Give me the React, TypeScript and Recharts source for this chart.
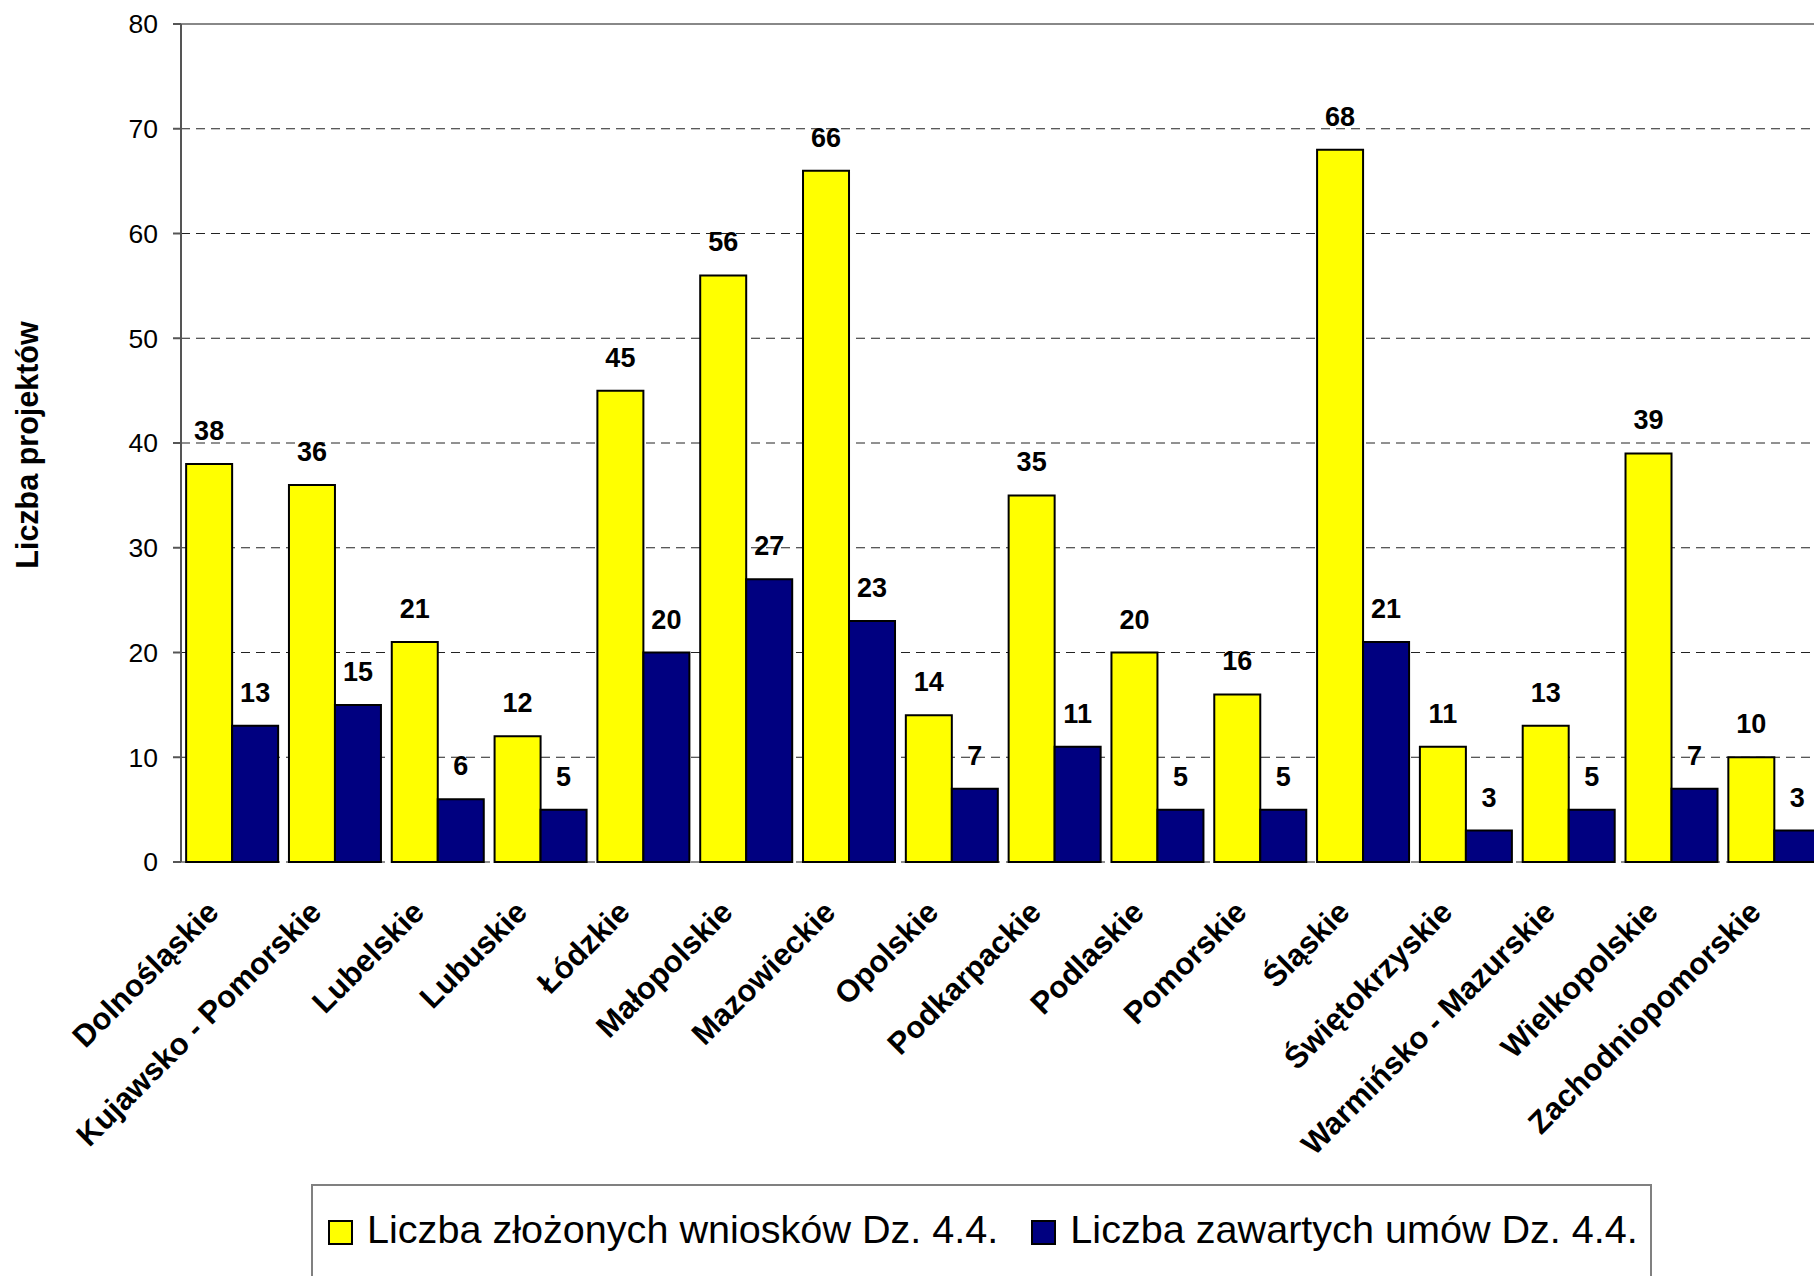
import React from 'react';
import { BarChart, Bar, XAxis, YAxis, CartesianGrid, LabelList, ReferenceLine } from 'recharts';

const categories = [
  'Dolnośląskie',
  'Kujawsko - Pomorskie',
  'Lubelskie',
  'Lubuskie',
  'Łódzkie',
  'Małopolskie',
  'Mazowieckie',
  'Opolskie',
  'Podkarpackie',
  'Podlaskie',
  'Pomorskie',
  'Śląskie',
  'Świętokrzyskie',
  'Warmińsko - Mazurskie',
  'Wielkopolskie',
  'Zachodniopomorskie',
];
const wnioski = [38, 36, 21, 12, 45, 56, 66, 14, 35, 20, 16, 68, 11, 13, 39, 10];
const umowy = [13, 15, 6, 5, 20, 27, 23, 7, 11, 5, 5, 21, 3, 5, 7, 3];
const yTicks = [0, 10, 20, 30, 40, 50, 60, 70, 80];
const boundaryTicks = categories.map((_, i) => i).concat([categories.length]);

const seriesNames = ['Liczba złożonych wniosków Dz. 4.4.', 'Liczba zawartych umów Dz. 4.4.'];
const seriesColors = ['#FFFF00', '#000080'];
const yTitle = 'Liczba projektów';

const data = categories.map((c, i) => ({ name: c, a: wnioski[i], b: umowy[i] }));

const FONT = '"Liberation Sans", Arial, Helvetica, sans-serif';

const CatTick = (props: any) => {
  const { x, y, payload } = props;
  return (
    <g transform={`translate(${x},${y})`}>
      <text
        x={-12}
        y={52}
        textAnchor="end"
        transform="rotate(-45, -12, 52)"
        fontFamily={FONT}
        fontWeight="bold"
        fontSize={31}
        fill="#000"
      >
        {payload.value}
      </text>
    </g>
  );
};

const YTitle = (p: any) => {
  const vb = p.viewBox || { x: 0, y: 24, width: 181, height: 838 };
  const cx = vb.x + 38;
  const cy = vb.y + vb.height / 2 + 2;
  return (
    <text
      x={cx}
      y={cy}
      textAnchor="middle"
      transform={`rotate(-90, ${cx}, ${cy})`}
      fontFamily={FONT}
      fontWeight="bold"
      fontSize={30.5}
      fill="#000"
    >
      {yTitle}
    </text>
  );
};

export default function App() {
  return (
    <div
      style={{
        position: 'fixed',
        left: 0,
        top: 0,
        width: 1814,
        height: 1276,
        overflow: 'hidden',
        background: '#fff',
        fontFamily: FONT,
      }}
    >
      <BarChart
        width={1836}
        height={1276}
        data={data}
        margin={{ top: 24, right: 10, left: 0, bottom: 0 }}
        barCategoryGap="5%"
        barGap={0}
      >
        <CartesianGrid
          horizontal={true}
          vertical={false}
          stroke="#222"
          strokeDasharray="9 6"
          yAxisId="y"
          xAxisId="cat"
        />
        <XAxis
          xAxisId="grid"
          type="number"
          domain={[0, categories.length]}
          ticks={boundaryTicks}
          allowDataOverflow
          height={0}
          tick={false}
          tickSize={10}
          tickLine={{ stroke: '#707070', strokeWidth: 2 }}
          axisLine={{ stroke: '#707070', strokeWidth: 2 }}
          interval={0}
        />
        <XAxis
          xAxisId="cat"
          dataKey="name"
          type="category"
          height={414}
          tickLine={false}
          axisLine={false}
          tickSize={0}
          tickMargin={0}
          interval={0}
          tick={<CatTick />}
        />
        <YAxis
          yAxisId="y"
          width={181}
          domain={[0, 80]}
          ticks={yTicks}
          interval={0}
          tickSize={8}
          tickMargin={15}
          tick={{ fontFamily: FONT, fontSize: 26.5, fill: '#000' }}
          tickLine={{ stroke: '#555', strokeWidth: 2 }}
          axisLine={{ stroke: '#555', strokeWidth: 2 }}
          label={{ content: (p: any) => <YTitle {...p} /> }}
        />
        <ReferenceLine yAxisId="y" xAxisId="cat" y={80} stroke="#888" strokeWidth={2} />
        <Bar
          xAxisId="cat"
          yAxisId="y"
          dataKey="a"
          name={seriesNames[0]}
          fill={seriesColors[0]}
          stroke="#000"
          strokeWidth={2}
          isAnimationActive={false}
        >
          <LabelList
            dataKey="a"
            position="top"
            offset={24}
            style={{ fontFamily: FONT, fontSize: 27, fontWeight: 'bold', fill: '#000' }}
          />
        </Bar>
        <Bar
          xAxisId="cat"
          yAxisId="y"
          dataKey="b"
          name={seriesNames[1]}
          fill={seriesColors[1]}
          stroke="#000"
          strokeWidth={2}
          isAnimationActive={false}
        >
          <LabelList
            dataKey="b"
            position="top"
            offset={24}
            style={{ fontFamily: FONT, fontSize: 27, fontWeight: 'bold', fill: '#000' }}
          />
        </Bar>
      </BarChart>
      <div
        style={{
          position: 'absolute',
          left: 311,
          top: 1184,
          width: 1341,
          height: 130,
          boxSizing: 'border-box',
          border: '2px solid #808080',
          paddingTop: 20,
          paddingLeft: 15,
          display: 'flex',
          flexDirection: 'row',
          alignItems: 'flex-start',
          fontFamily: FONT,
          fontSize: 39.6,
          lineHeight: '46px',
          color: '#000',
          whiteSpace: 'nowrap',
        }}
      >
        {seriesNames.map((n, i) => (
          <div key={n} style={{ display: 'flex', alignItems: 'flex-start', marginRight: i === 0 ? 33 : 0 }}>
            <div
              style={{
                width: 25,
                height: 25,
                marginTop: 14,
                marginRight: 14,
                boxSizing: 'border-box',
                border: '2px solid #000',
                background: seriesColors[i],
              }}
            />
            <span>{n}</span>
          </div>
        ))}
      </div>
    </div>
  );
}
